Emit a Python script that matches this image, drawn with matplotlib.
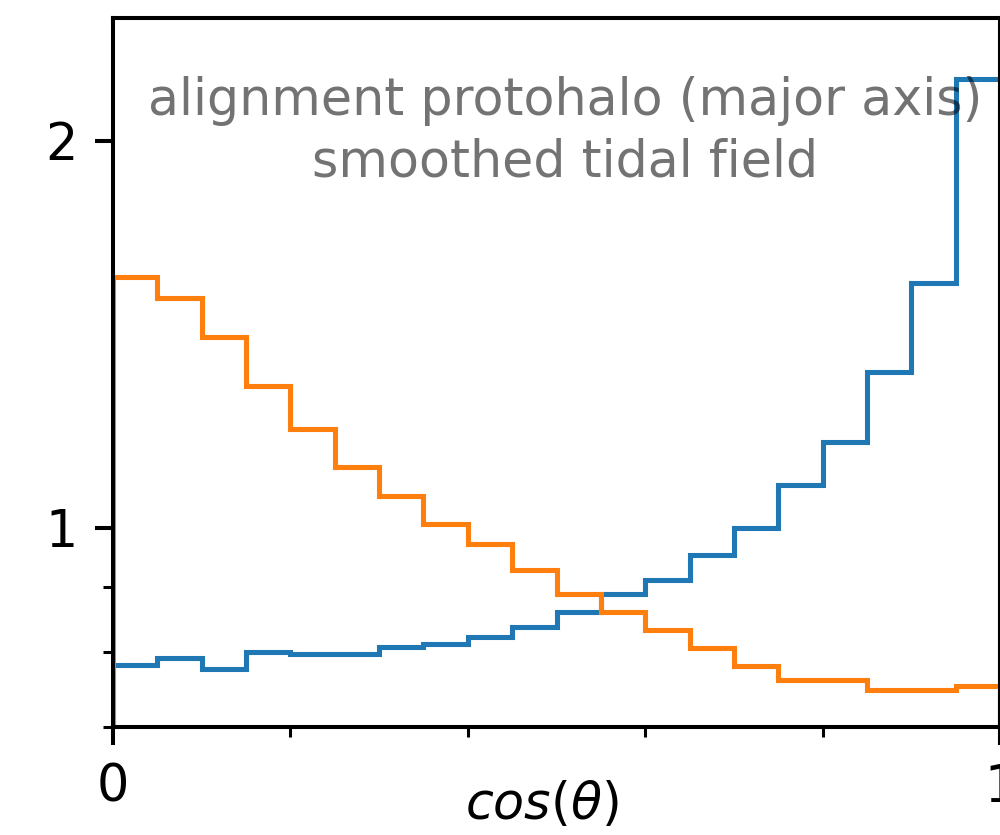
import matplotlib
matplotlib.use("Agg")
import matplotlib.pyplot as plt
import numpy as np

# bin edges of cos(theta) and normalised counts
edges = np.linspace(0, 1, 21)
major_axis = [0.782, 0.792, 0.777, 0.801, 0.798, 0.798, 0.808, 0.812, 0.823, 0.838,
              0.860, 0.888, 0.911, 0.952, 1.000, 1.080, 1.165, 1.322, 1.549, 2.234]
tidal_field = [1.566, 1.509, 1.407, 1.289, 1.194, 1.114, 1.059, 1.006, 0.971, 0.928,
               0.888, 0.860, 0.833, 0.807, 0.781, 0.762, 0.762, 0.748, 0.748, 0.753]
title_lines = ["alignment protohalo (major axis)", "smoothed tidal field"]

s = 3.65  # scale of the zoomed-in original

fig = plt.figure(figsize=(10, 8.35), dpi=100)
ax = fig.add_axes([0.113, 0.1293, 0.887, 0.849])

ax.stairs(major_axis, edges, baseline=0.5, color='C0', lw=1 * s)
ax.stairs(tidal_field, edges, baseline=0.5, color='C1', lw=1 * s)

ax.set_yscale('log')
ax.set_xlim(0, 1)
ax.set_ylim(0.703, 2.49)

ax.set_yticks([1, 2])
ax.set_yticklabels(['1', '2'])
ax.set_yticks([0.7, 0.8, 0.9], minor=True)
ax.set_yticklabels([], minor=True)
ax.set_xticks([0, 1])
ax.set_xticklabels(['0', '1'])
ax.set_xticks([0.2, 0.4, 0.6, 0.8], minor=True)

ax.tick_params(which='major', length=3.5 * s, width=0.8 * s, pad=3.5 * s, labelsize=10 * s)
ax.tick_params(which='minor', length=2 * s, width=0.6 * s)
for sp in ax.spines.values():
    sp.set_linewidth(0.8 * s)

ax.set_xlabel(r'$cos(\theta)$', fontsize=10 * s)
ax.xaxis.set_label_coords(0.484, -0.075)

ax.text(0.51, 0.84, "\n".join(title_lines), transform=ax.transAxes,
        ha='center', va='center', multialignment='center', linespacing=1.3,
        fontsize=10 * s, color='k', alpha=0.55)

plt.savefig("out.png", dpi=100)
